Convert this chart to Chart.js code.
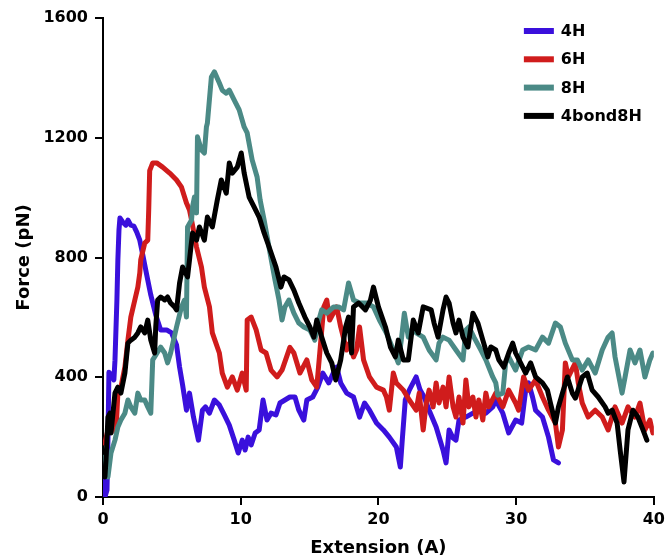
<!DOCTYPE html>
<html><head><meta charset="utf-8">
<script src="https://cdn.jsdelivr.net/npm/chart.js@4/dist/chart.umd.min.js"></script>
<style>html,body{margin:0;padding:0;background:#fff}</style>
</head><body>
<canvas id="c" width="670" height="559"></canvas>
<script>
const seriesNames = ['4H', '6H', '8H', '4bond8H'];
const seriesColors = ['#3a10dc', '#d01c1c', '#4b8a86', '#000000'];
const xTickValues = [0, 10, 20, 30, 40];
const yTickValues = [0, 400, 800, 1200, 1600];

const ext4H = [0.04,0.14,0.29,0.36,0.43,0.65,0.79,0.87,1.01,1.08,1.16,1.23,1.44,1.66,1.81,2.02,2.24,2.45,2.67,2.89,3.18,3.47,3.83,4.19,4.62,4.98,5.34,5.56,5.78,6.06,6.28,6.57,6.93,7.22,7.44,7.73,8.09,8.45,8.81,9.17,9.53,9.82,10.11,10.32,10.54,10.76,11.05,11.34,11.62,11.91,12.2,12.56,12.85,13.21,13.57,13.94,14.22,14.58,14.8,15.23,15.6,15.96,16.39,16.82,16.97,17.26,17.69,18.19,18.63,18.99,19.35,19.86,20.36,20.79,21.3,21.59,21.73,21.95,22.24,22.74,23.03,23.32,23.68,24.19,24.69,24.91,25.13,25.42,25.63,25.85,26.35,26.86,27.29,27.8,28.3,28.52,29.03,29.46,29.96,30.4,30.69,30.9,31.19,31.41,31.91,32.35,32.71,33.07];
const force4H = [57,0,23,190,417,407,391,457,658,792,892,932,918,908,925,908,905,885,858,808,741,675,608,558,558,548,508,434,374,290,347,267,190,290,301,280,324,307,274,240,190,147,190,157,200,174,214,224,324,257,280,274,314,324,334,334,290,257,324,334,367,414,381,424,434,381,347,334,267,314,290,247,224,200,167,100,190,324,357,401,357,334,290,234,157,114,224,197,190,257,267,280,290,280,301,324,280,214,257,247,357,381,334,290,267,200,124,114];

const ext6H = [0.14,0.36,0.72,0.94,1.08,1.30,1.59,1.81,2.02,2.31,2.53,2.67,2.74,3.03,3.25,3.32,3.39,3.61,3.90,4.33,4.84,5.34,5.70,6.06,6.28,6.43,6.79,7.15,7.36,7.73,7.94,8.45,8.66,9.03,9.39,9.75,10.11,10.40,10.47,10.76,11.12,11.48,11.84,12.20,12.64,13.0,13.57,13.86,14.30,14.80,15.16,15.52,15.74,16.03,16.25,16.46,16.97,17.26,17.69,17.91,18.19,18.41,18.63,18.92,19.35,19.86,20.36,20.58,20.79,21.08,21.30,21.81,22.24,22.74,22.96,23.25,23.47,23.68,23.97,24.19,24.40,24.69,24.91,25.13,25.42,25.63,25.85,26.14,26.35,26.57,26.86,27.08,27.29,27.58,27.80,28.01,28.52,29.03,29.46,29.96,30.18,30.54,30.90,31.41,31.91,32.35,32.85,33.07,33.36,33.57,33.79,34.30,34.51,34.80,35.23,35.74,36.25,36.68,37.18,37.69,38.12,38.63,38.99,39.35,39.71,39.93];
const force6H = [180,224,280,214,347,367,434,524,601,658,701,748,792,848,858,960,1090,1116,1116,1102,1082,1059,1035,982,959,925,835,768,701,635,548,481,414,367,401,357,414,357,591,601,558,491,481,424,401,424,500,481,414,458,391,367,481,635,658,591,635,568,491,514,468,491,568,458,401,367,357,334,290,414,381,357,324,290,347,224,314,357,301,381,314,367,301,401,301,267,334,247,391,301,334,267,324,257,347,301,347,301,357,314,290,401,357,391,334,290,247,167,224,448,401,448,381,314,267,290,267,224,301,247,301,267,314,224,257,214];

const ext8H = [0.14,0.36,0.58,0.87,1.08,1.30,1.59,1.81,2.02,2.31,2.53,2.74,3.03,3.25,3.47,3.61,3.75,4.19,4.48,4.69,4.91,5.34,5.70,5.92,6.06,6.14,6.43,6.50,6.64,6.79,6.86,7.15,7.36,7.51,7.58,7.87,8.09,8.45,8.66,8.95,9.17,9.53,9.89,10.25,10.47,10.83,11.19,11.41,11.70,12.13,12.49,12.78,13.00,13.21,13.50,13.86,14.22,14.58,15.02,15.38,15.67,15.88,16.25,16.75,17.11,17.47,17.83,18.05,18.19,18.63,19.13,19.64,20.07,20.58,21.08,21.44,21.66,21.88,22.17,22.53,22.74,23.25,23.68,24.19,24.40,24.69,25.13,25.63,26.14,26.35,26.57,26.93,27.44,27.80,28.30,28.52,28.66,29.03,29.24,29.46,29.96,30.47,30.90,31.41,31.91,32.35,32.85,33.21,33.57,34.08,34.44,34.80,35.23,35.74,36.25,36.68,36.97,37.18,37.69,37.91,38.27,38.63,38.99,39.35,39.71,39.93];
const force8H = [134,67,147,190,234,257,280,324,301,280,347,324,324,301,280,458,468,501,481,448,481,568,635,658,601,902,925,969,1002,949,1203,1159,1149,1236,1249,1403,1420,1383,1359,1349,1359,1326,1293,1236,1216,1126,1069,992,925,815,725,658,591,635,658,614,581,568,558,524,591,625,614,635,635,625,715,681,658,648,648,635,591,548,491,448,524,614,534,568,548,534,491,458,514,534,524,491,458,558,568,534,491,458,401,381,340,347,448,468,424,491,501,491,534,514,581,568,514,458,458,424,458,414,491,534,548,468,347,401,491,448,491,401,458,481];

const ext4bond8H = [0.14,0.22,0.36,0.51,0.58,0.87,1.08,1.30,1.59,1.81,2.02,2.31,2.53,2.74,3.03,3.25,3.47,3.75,3.83,3.97,4.19,4.48,4.69,4.91,5.20,5.34,5.56,5.78,6.14,6.28,6.50,6.79,7.00,7.36,7.58,7.94,8.30,8.59,8.95,9.17,9.39,9.75,10.04,10.25,10.61,10.97,11.34,11.70,12.06,12.56,12.92,13.14,13.50,13.86,14.22,14.66,15.02,15.31,15.52,15.88,16.25,16.61,16.90,17.26,17.62,17.83,18.05,18.19,18.56,19.06,19.42,19.64,20.00,20.51,20.87,21.23,21.44,21.81,22.17,22.53,22.89,23.25,23.83,24.04,24.33,24.69,24.91,25.13,25.42,25.63,25.85,26.14,26.50,26.86,27.22,27.58,27.94,28.16,28.52,28.74,29.10,29.46,29.75,29.96,30.32,30.69,31.05,31.41,31.91,32.27,32.49,32.85,33.07,33.36,33.72,34.08,34.30,34.80,35.16,35.52,35.96,36.46,36.68,36.97,37.33,37.55,37.83,38.12,38.48,38.84,39.21,39.49];
const force4bond8H = [67,124,267,280,214,347,367,347,414,514,524,534,548,568,548,591,524,481,568,658,668,658,668,648,635,625,715,768,735,792,882,858,902,858,935,902,992,1059,1015,1116,1082,1102,1149,1082,1002,969,935,882,835,768,701,735,725,691,648,601,568,534,591,534,481,448,391,458,568,601,481,635,648,625,658,701,635,568,501,468,524,458,458,591,548,635,625,581,534,625,668,648,581,548,591,534,501,614,581,524,468,501,491,458,434,481,514,481,448,414,448,401,381,357,314,247,301,347,401,347,330,401,414,357,334,301,280,290,247,157,50,224,290,267,224,190];

const extArrays = [ext4H, ext6H, ext8H, ext4bond8H];
const forceArrays = [force4H, force6H, force8H, force4bond8H];
const drawOrder = [4, 3, 2, 1];

const datasets = seriesNames.map((name, i) => ({
  label: name,
  data: extArrays[i].map((x, j) => ({ x: x, y: forceArrays[i][j] })),
  borderColor: seriesColors[i],
  backgroundColor: seriesColors[i],
  borderWidth: 5,
  pointRadius: 0,
  tension: 0,
  fill: false,
  order: drawOrder[i],
  borderJoinStyle: 'round',
  borderCapStyle: 'round'
}));

const FONT = 'DejaVu Sans, Verdana, sans-serif';

const insideLegend = {
  id: 'insideLegend',
  afterDraw(chart) {
    const ctx = chart.ctx;
    const area = chart.chartArea;
    const x0 = area.right - 130;
    const y0 = area.top + 13;
    const step = 28.3;
    ctx.save();
    ctx.font = 'bold 16px ' + FONT;
    ctx.textBaseline = 'middle';
    ctx.textAlign = 'left';
    seriesNames.forEach((name, i) => {
      const y = y0 + i * step;
      ctx.strokeStyle = seriesColors[i];
      ctx.lineWidth = 6;
      ctx.lineCap = 'butt';
      ctx.beginPath();
      ctx.moveTo(x0, y);
      ctx.lineTo(x0 + 30, y);
      ctx.stroke();
      ctx.fillStyle = '#000';
      ctx.fillText(name, x0 + 37, y + 1);
    });
    ctx.restore();
  }
};

new Chart(document.getElementById('c'), {
  type: 'line',
  data: { datasets: datasets },
  options: {
    responsive: false,
    animation: false,
    devicePixelRatio: 1,
    layout: { padding: { top: 18, right: 13, left: 0, bottom: 0 } },
    plugins: { legend: { display: false }, tooltip: { enabled: false } },
    scales: {
      x: {
        type: 'linear',
        min: 0, max: 40,
        afterFit(s) { s.height = 62; },
        afterBuildTicks(s) { s.ticks = xTickValues.map(v => ({ value: v })); },
        border: { display: true, color: '#000', width: 2 },
        grid: { drawOnChartArea: false, drawTicks: true, tickLength: 8, tickColor: '#000', lineWidth: 2 },
        ticks: { padding: 5, color: '#000', font: { family: FONT, size: 16, weight: 'bold' }, maxRotation: 0, callback: v => String(v) },
        title: { display: true, text: 'Extension (A)', color: '#000', font: { family: FONT, size: 18, weight: 'bold' }, padding: { top: 0, bottom: 0 } }
      },
      y: {
        type: 'linear',
        min: 0, max: 1600,
        afterFit(s) { s.width = 103; },
        afterBuildTicks(s) { s.ticks = yTickValues.map(v => ({ value: v })); },
        border: { display: true, color: '#000', width: 2 },
        grid: { drawOnChartArea: false, drawTicks: true, tickLength: 8, tickColor: '#000', lineWidth: 2 },
        ticks: { padding: 7, color: '#000', font: { family: FONT, size: 16, weight: 'bold' }, callback: v => String(v) },
        title: { display: true, text: 'Force (pN)', color: '#000', font: { family: FONT, size: 18, weight: 'bold' }, padding: { top: 14, bottom: 0 } }
      }
    }
  },
  plugins: [insideLegend]
});
</script>
</body></html>
